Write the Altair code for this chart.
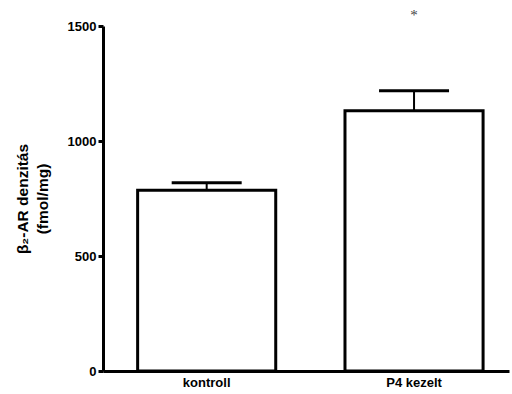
import altair as alt
import pandas as pd

# Group means and SEM for beta2-adrenergic receptor density
groups = ["kontroll", "P4 kezelt"]
means = [786, 1131]
sems = [32, 87]
# significance marker (P4 group)
star_labels = ["", "*"]
star_level = [None, 1550]

df = pd.DataFrame({
    "group": groups,
    "mean": means,
    "upper": [m + s for m, s in zip(means, sems)],
    "star": star_labels,
    "star_y": star_level,
})

FONT = "Liberation Sans"
Y_TITLE = ["β₂-AR denzitás", "(fmol/mg)"]

x_axis = alt.Axis(
    title=None, labelAngle=0, ticks=False, labelPadding=5, grid=False,
    domainWidth=3, domainColor="black",
    labelFont=FONT, labelFontWeight="bold", labelFontSize=13, labelColor="black",
)
y_axis = alt.Axis(
    title=Y_TITLE, values=[0, 500, 1000, 1500], format="d", grid=False,
    domainWidth=3, domainColor="black",
    ticks=True, tickSize=5, tickWidth=3, tickColor="black",
    labelPadding=2, labelFont=FONT, labelFontWeight="bold", labelFontSize=13,
    labelColor="black",
    titlePadding=17, titleFont=FONT, titleFontWeight="bold", titleFontSize=15.5,
    titleColor="black", titleLineHeight=20,
)

x_scale = alt.Scale(paddingInner=0.334, paddingOuter=0.146, align=0.572)
y_scale = alt.Scale(domain=[0, 1500], nice=False)


def xenc():
    return alt.X("group:N", sort=groups, scale=x_scale, axis=x_axis)


def yenc(field):
    return alt.Y(field, scale=y_scale, axis=y_axis)


bars = alt.Chart(df).mark_bar(
    fill="white", stroke="black", strokeWidth=3, clip=False
).encode(x=xenc(), y=yenc("mean:Q"))

err_line = alt.Chart(df).mark_rule(color="black", strokeWidth=2, opacity=1).encode(
    x=xenc(), y=yenc("mean:Q"), y2="upper:Q"
)

err_cap = alt.Chart(df).mark_tick(
    color="black", fill="black", thickness=3, size=70, orient="horizontal", opacity=1
).encode(x=xenc(), y=yenc("upper:Q"))

star = alt.Chart(df).transform_filter(
    alt.datum.star_y != None
).mark_text(
    font="Liberation Serif", fontSize=15, fill="#444", baseline="middle",
    align="center", clip=False,
).encode(x=xenc(), y=yenc("star_y:Q"), text="star:N")

chart = alt.layer(bars, err_line, err_cap, star).properties(
    width=406,
    height=345,
    padding={"left": 103, "top": 26, "right": 3, "bottom": 23},
    autosize=alt.AutoSizeParams(type="none"),
).configure_view(stroke=None).configure_axis(
    domainColor="black", domainWidth=3, tickColor="black", tickWidth=3,
)

chart.save("out.html", embed_options={"renderer": "svg", "actions": False})
